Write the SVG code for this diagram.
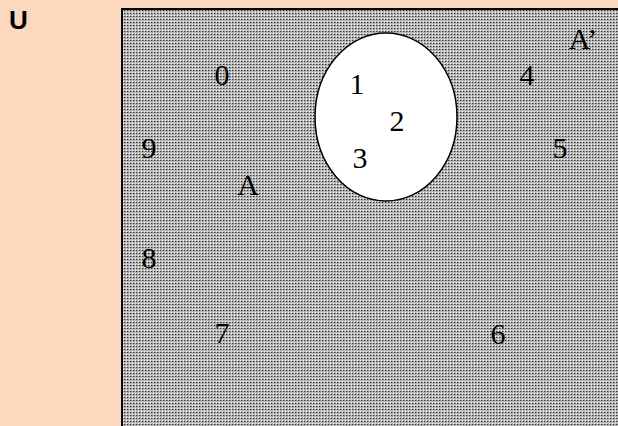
<svg xmlns="http://www.w3.org/2000/svg" width="618" height="426" viewBox="0 0 618 426">
<style>
.n{font-family:"Liberation Serif","Times New Roman",serif;font-size:30px;fill:#000;text-anchor:middle}
</style>
<defs>
<pattern id="dots" x="0" y="0" width="3" height="3" patternUnits="userSpaceOnUse">
<rect width="3" height="3" fill="#b8b8b8"/>
<rect x="1" y="1" width="1" height="1" fill="#303030"/>
<rect x="0" y="0" width="1" height="1" fill="#ffffff"/>
<rect x="2" y="1" width="1" height="1" fill="#8a8a8a"/>
</pattern>
</defs>
<rect width="618" height="426" fill="#fcd9be"/>
<text x="9" y="29" font-family="Liberation Sans,Arial,sans-serif" font-size="26" font-weight="bold" fill="#000">U</text>
<g id="universe">
<rect x="122" y="9" width="500" height="420" fill="url(#dots)" stroke="#000" stroke-width="2"/>
</g>
<g id="setA">
<ellipse cx="386" cy="117" rx="71" ry="84" fill="#fff" stroke="#000" stroke-width="1.5"/>
</g>
<g id="labels">
<text class="n" x="222" y="85">0</text>
<text class="n" x="357" y="94">1</text>
<text class="n" x="397" y="131">2</text>
<text class="n" x="360" y="168">3</text>
<text class="n" x="527" y="85">4</text>
<text class="n" x="583" y="49">A’</text>
<text class="n" x="560" y="158">5</text>
<text class="n" x="149" y="158">9</text>
<text class="n" x="248" y="195">A</text>
<text class="n" x="149" y="268">8</text>
<text class="n" x="222" y="343">7</text>
<text class="n" x="498" y="344">6</text>
</g>
</svg>
